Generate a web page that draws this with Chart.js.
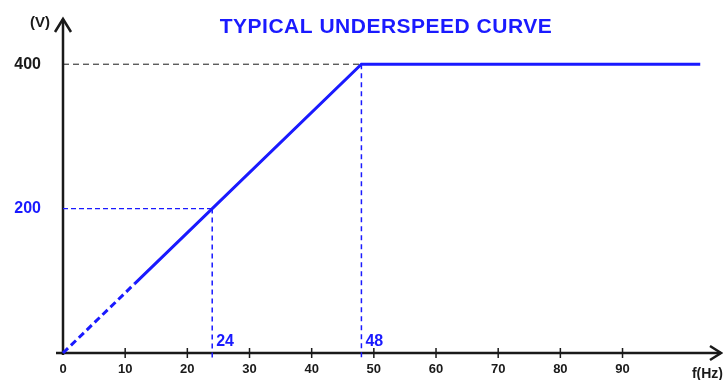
<!DOCTYPE html>
<html>
<head>
<meta charset="utf-8">
<script src="https://cdn.jsdelivr.net/npm/chart.js@4.4.1/dist/chart.umd.min.js"></script>
<style>
    html, body { margin: 0; padding: 0; background: #fff; }
    #wrap { width: 723px; height: 380px; position: relative; }
</style>
</head>
<body>
<div id="wrap"><canvas id="chart"></canvas></div>
<script>
// Data
const BLUE = 'rgb(26, 26, 255)';
const INK = '#1a1a1a';

const xTicks = [0, 10, 20, 30, 40, 50, 60, 70, 80, 90];
const yTicks = [200, 400];

// curve: dashed start, then solid ramp up to the 400 V plateau
const dashedX = [0, 11.5];
const dashedY = [0, 95.8];
const solidX = [11.5, 48, 102.5];
const solidY = [95.8, 400, 400];

// guide lines
const marks = [24, 48];          // marked frequencies
const markLevels = [200, 400];   // voltage at those frequencies

const xMax = 106;
const yMax = 464;

function pts(xs, ys) {
    return xs.map((x, i) => ({ x: x, y: ys[i] }));
}

// axes with arrows, tick marks and annotations
const axesPlugin = {
    id: 'axes',
    beforeDatasetsDraw(chart) {
        const { ctx, chartArea, scales } = chart;
        const x0 = scales.x.getPixelForValue(0);
        const y0 = scales.y.getPixelForValue(0);
        ctx.save();
        ctx.strokeStyle = INK;
        ctx.lineWidth = 2.5;
        ctx.lineCap = 'butt';
        // y axis
        ctx.beginPath();
        ctx.moveTo(x0, y0 + 2);
        ctx.lineTo(x0, chartArea.top + 1);
        ctx.stroke();
        ctx.beginPath();
        ctx.moveTo(x0 - 8, chartArea.top + 14);
        ctx.lineTo(x0, chartArea.top + 1);
        ctx.lineTo(x0 + 8, chartArea.top + 14);
        ctx.stroke();
        // x axis
        ctx.beginPath();
        ctx.moveTo(x0 - 7, y0);
        ctx.lineTo(chartArea.right - 1, y0);
        ctx.stroke();
        ctx.beginPath();
        ctx.moveTo(chartArea.right - 12, y0 - 7);
        ctx.lineTo(chartArea.right - 1, y0);
        ctx.lineTo(chartArea.right - 12, y0 + 7);
        ctx.stroke();
        // tick marks crossing the x axis
        ctx.lineWidth = 1.5;
        scales.x.ticks.forEach(t => {
            if (t.value === 0) return;
            const px = scales.x.getPixelForValue(t.value);
            ctx.beginPath();
            ctx.moveTo(px, y0 - 5);
            ctx.lineTo(px, y0 + 5);
            ctx.stroke();
        });
        ctx.restore();
    },
    afterDraw(chart) {
        const { ctx, chartArea, scales } = chart;
        const x0 = scales.x.getPixelForValue(0);
        const y0 = scales.y.getPixelForValue(0);
        ctx.save();
        // title
        ctx.fillStyle = BLUE;
        ctx.font = 'bold 21px "Liberation Sans", Arial, sans-serif';
        ctx.letterSpacing = '0.5px';
        ctx.textAlign = 'center';
        ctx.textBaseline = 'alphabetic';
        ctx.fillText('TYPICAL UNDERSPEED CURVE', 386, 33);
        ctx.letterSpacing = '0px';
        // marked frequencies
        ctx.font = 'bold 16px "Liberation Sans", Arial, sans-serif';
        ctx.textAlign = 'left';
        marks.forEach(m => {
            ctx.fillText(String(m), scales.x.getPixelForValue(m) + 4, y0 - 7);
        });
        // axis names
        ctx.fillStyle = INK;
        ctx.font = 'bold 15px "Liberation Sans", Arial, sans-serif';
        ctx.textAlign = 'center';
        ctx.fillText('(V)', x0 - 23, chartArea.top + 9);
        ctx.font = 'bold 14px "Liberation Sans", Arial, sans-serif';
        ctx.textAlign = 'right';
        ctx.fillText('f(Hz)', chartArea.right + 1, y0 + 25);
        ctx.restore();
    }
};

const datasets = [
    {
        data: pts([0, marks[1]], [markLevels[1], markLevels[1]]),
        borderColor: INK, borderWidth: 1, borderDash: [6, 4]
    },
    {
        data: pts([0, marks[0]], [markLevels[0], markLevels[0]]),
        borderColor: BLUE, borderWidth: 1.3, borderDash: [5, 3]
    },
    {
        data: pts([marks[0], marks[0]], [markLevels[0], -10]),
        borderColor: BLUE, borderWidth: 1.5, borderDash: [5, 4]
    },
    {
        data: pts([marks[1], marks[1]], [markLevels[1], -10]),
        borderColor: BLUE, borderWidth: 1.5, borderDash: [5, 4]
    },
    {
        data: pts(dashedX, dashedY),
        borderColor: BLUE, borderWidth: 3, borderDash: [7, 4]
    },
    {
        data: pts(solidX, solidY),
        borderColor: BLUE, borderWidth: 3
    }
];

new Chart(document.getElementById('chart'), {
    type: 'line',
    data: { datasets: datasets },
    plugins: [axesPlugin],
    options: {
        responsive: true,
        maintainAspectRatio: false,
        animation: false,
        clip: false,
        layout: { padding: { top: 18, right: 1, left: 0, bottom: 0 } },
        elements: {
            point: { radius: 0 },
            line: { tension: 0, fill: false, borderCapStyle: 'butt' }
        },
        plugins: {
            legend: { display: false },
            tooltip: { enabled: false },
            title: { display: false }
        },
        scales: {
            x: {
                type: 'linear',
                min: 0,
                max: xMax,
                afterBuildTicks: s => { s.ticks = xTicks.map(v => ({ value: v })); },
                afterFit: s => { s.height = 27; s.paddingLeft = 0; s.paddingRight = 0; },
                grid: { display: false, drawTicks: false },
                border: { display: false },
                ticks: {
                    padding: 9,
                    color: INK,
                    font: { family: '"Liberation Sans", Arial, sans-serif', size: 13, weight: 'bold' }
                }
            },
            y: {
                type: 'linear',
                min: 0,
                max: yMax,
                afterBuildTicks: s => { s.ticks = yTicks.map(v => ({ value: v })); },
                afterFit: s => { s.width = 63; s.paddingTop = 0; s.paddingBottom = 0; },
                grid: { display: false, drawTicks: false },
                border: { display: false },
                ticks: {
                    padding: 22,
                    color: c => c.tick && c.tick.value === 200 ? BLUE : INK,
                    font: { family: '"Liberation Sans", Arial, sans-serif', size: 16, weight: 'bold' }
                }
            }
        }
    }
});
</script>
</body>
</html>
